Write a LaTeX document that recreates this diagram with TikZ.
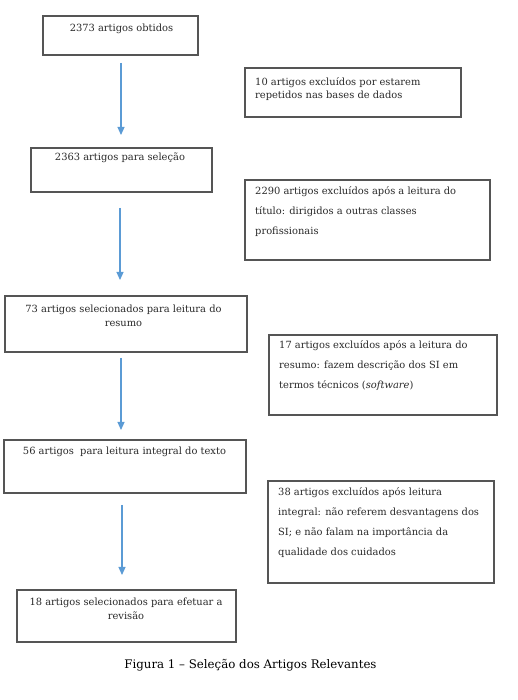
\documentclass[tikz,border=0pt]{standalone}
\usepackage{fontspec}
\setmainfont{DejaVu Serif}
\usetikzlibrary{arrows.meta}
\definecolor{boxline}{HTML}{555555}
\definecolor{boxtext}{HTML}{2A2A2A}
\definecolor{arrowblue}{HTML}{5B9BD5}
\newcommand\LeftLines[2]{\vtop{\baselineskip=#1\relax\lineskiplimit=-100pt\halign{##\hfil\cr#2\crcr}}}
\newcommand\CenterLines[2]{\vtop{\baselineskip=#1\relax\lineskiplimit=-100pt\halign{\hfil##\hfil\cr#2\crcr}}}
\begin{document}
\begin{tikzpicture}[x=1pt,y=1pt,
  boxshape/.style={draw=boxline, line width=1.1pt, rectangle, inner sep=0pt, fill=white},
  boxtxt/.style={inner sep=0pt, text=boxtext, font=\fontsize{9.9}{12}\selectfont},
  flowarrow/.style={draw=arrowblue, line width=1.1pt, -{Triangle[width=7pt,length=8pt]}}
]
\useasboundingbox (0,0) rectangle (517,700);
% left column boxes
\node[boxshape, minimum width=155pt, minimum height=39pt] (b1) at (120.5,664.5) {};
\node[boxshape, minimum width=181pt, minimum height=44pt] (b2) at (121.5,530) {};
\node[boxshape, minimum width=242pt, minimum height=56pt] (b3) at (126,376) {};
\node[boxshape, minimum width=242pt, minimum height=53pt] (b4) at (125,233.5) {};
\node[boxshape, minimum width=219pt, minimum height=52pt] (b5) at (126.5,84) {};
% right column boxes
\node[boxshape, minimum width=216pt, minimum height=49pt] (r1) at (353,607.5) {};
\node[boxshape, minimum width=245pt, minimum height=80pt] (r2) at (367.5,480) {};
\node[boxshape, minimum width=228pt, minimum height=80pt] (r3) at (383,325) {};
\node[boxshape, minimum width=226pt, minimum height=102pt] (r4) at (381,168) {};
% texts of left boxes
\node[boxtxt, anchor=base] (t1) at (121.5,668) {2373 artigos obtidos};
\node[boxtxt, anchor=base] (t2) at (120,539) {2363 artigos para seleção};
\node[boxtxt, anchor=base] (t3) at (123.5,387) {\CenterLines{14pt}{73 artigos selecionados para leitura do\cr resumo}};
\node[boxtxt, anchor=base] (t4) at (124.5,245) {56 artigos\ \ para leitura integral do texto};
\node[boxtxt, anchor=base] (t5) at (126,94) {\CenterLines{14pt}{18 artigos selecionados para efetuar a\cr revisão}};
% texts of right boxes
\node[boxtxt, anchor=base west] (s1) at (255,614) {\LeftLines{13pt}{10 artigos excluídos por estarem\cr repetidos nas bases de dados}};
\node[boxtxt, anchor=base west] (s2) at (255,505) {\LeftLines{20pt}{2290 artigos excluídos após a leitura do\cr título: dirigidos a outras classes\cr profissionais}};
\node[boxtxt, anchor=base west] (s3) at (279,351) {\LeftLines{20pt}{17 artigos excluídos após a leitura do\cr resumo: fazem descrição dos SI em\cr termos técnicos (\textit{software})}};
\node[boxtxt, anchor=base west] (s4) at (278,204) {\LeftLines{20pt}{38 artigos excluídos após leitura\cr integral: não referem desvantagens dos\cr SI; e não falam na importância da\cr qualidade dos cuidados}};
% caption
\node[inner sep=0pt, anchor=base, font=\fontsize{11.8}{14}\selectfont] (cap) at (250.5,31) {Figura 1 – Seleção dos Artigos Relevantes};
% arrows
\coordinate (a1s) at (121,637);
\coordinate (a1e) at (121,565);
\coordinate (a2s) at (120,492);
\coordinate (a2e) at (120,420);
\coordinate (a3s) at (121,342);
\coordinate (a3e) at (121,270);
\coordinate (a4s) at (122,195);
\coordinate (a4e) at (122,125);
\draw[flowarrow] (a1s) -- (a1e);
\draw[flowarrow] (a2s) -- (a2e);
\draw[flowarrow] (a3s) -- (a3e);
\draw[flowarrow] (a4s) -- (a4e);
\end{tikzpicture}
\end{document}
